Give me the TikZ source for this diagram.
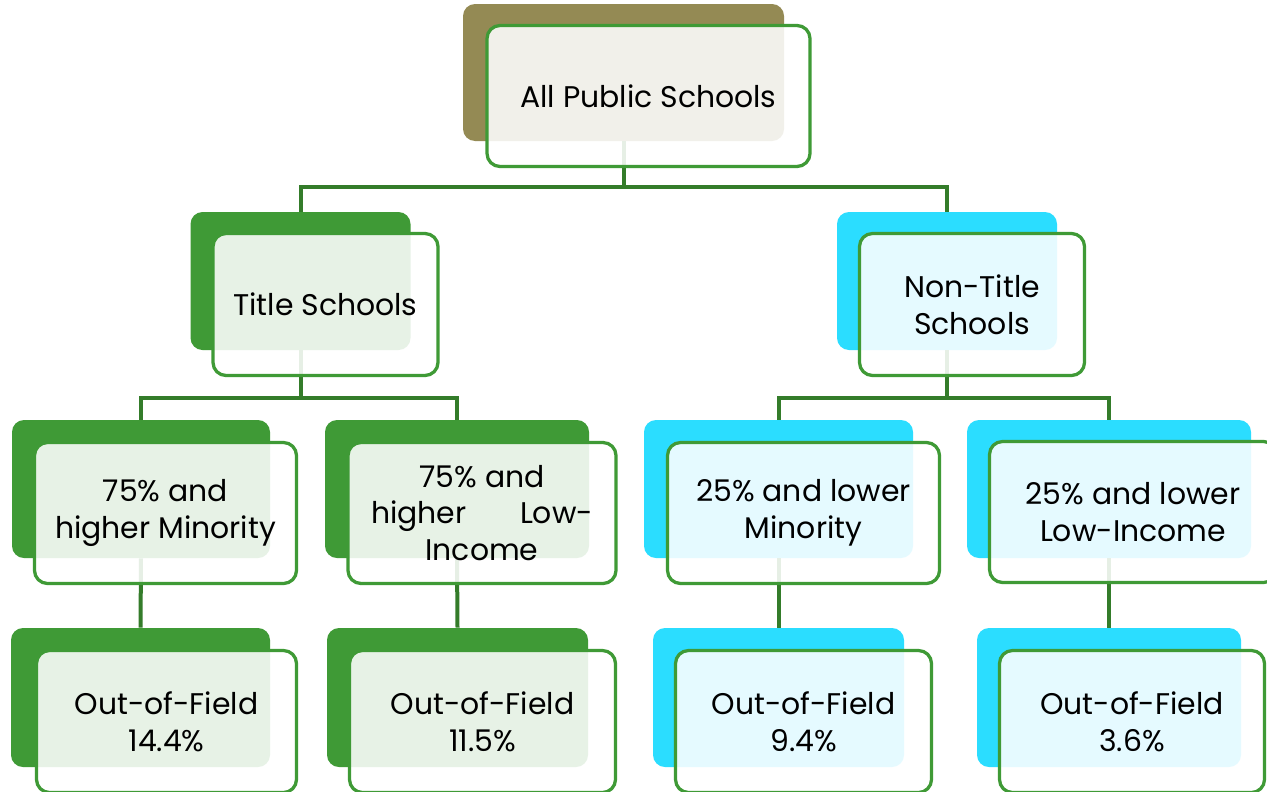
\documentclass[tikz,border=0pt]{standalone}
\usepackage{fontspec}
\setmainfont{Poppins}
\usetikzlibrary{positioning}

\definecolor{boxgreen}{RGB}{63,154,54}
\definecolor{linegreen}{RGB}{52,124,42}
\definecolor{oliveback}{RGB}{148,138,84}
\definecolor{cyanback}{RGB}{43,221,255}

\tikzset{
	backbox/.style={fill=#1, draw=none, rounded corners=0.24cm, inner sep=0pt},
	frontbox/.style={draw=boxgreen, line width=0.065cm, fill=white, fill opacity=0.88, text opacity=1,
		rounded corners=0.26cm, inner sep=0pt, align=center, font=\fontsize{17}{21}\selectfont},
	conn/.style={draw=linegreen, line width=0.08cm},
}

\begin{document}
\begin{tikzpicture}[x=0.02cm, y=-0.02cm]
		%%%%% START %%%%%
		
		\fill[white] (0, 0) rectangle (1267, 791);
		\clip (0, 0) rectangle (1267, 791);
		\useasboundingbox (0, 0) rectangle (1267, 791);
		
		% back boxes
		\node[backbox=oliveback, minimum width=321*0.02cm, minimum height=137*0.02cm] (all) at (623.5, 72.5) {};
		
		\node[backbox=boxgreen, minimum width=220*0.02cm, minimum height=138*0.02cm] (title) at (300.5, 281) {};
		\node[backbox=cyanback, minimum width=220*0.02cm, minimum height=138*0.02cm] (nontitle) at (947, 281) {};
		
		\node[backbox=boxgreen, minimum width=258*0.02cm, minimum height=138*0.02cm] (tminor) at (141, 489) {};
		\node[backbox=boxgreen, minimum width=264*0.02cm, minimum height=138*0.02cm] (tincome) at (457, 489) {};
		\node[backbox=cyanback, minimum width=269*0.02cm, minimum height=138*0.02cm] (nminor) at (778.5, 489) {};
		\node[backbox=cyanback, minimum width=284*0.02cm, minimum height=138*0.02cm] (nincome) at (1109, 489) {};
		
		\node[backbox=boxgreen, minimum width=259*0.02cm, minimum height=139*0.02cm] (tminorof) at (140.5, 697.5) {};
		\node[backbox=boxgreen, minimum width=261*0.02cm, minimum height=139*0.02cm] (tincomeof) at (457.5, 697.5) {};
		\node[backbox=cyanback, minimum width=251*0.02cm, minimum height=139*0.02cm] (nminorof) at (778.5, 697.5) {};
		\node[backbox=cyanback, minimum width=264*0.02cm, minimum height=139*0.02cm] (nincomeof) at (1109, 697.5) {};
		
		% connectors
		\draw[conn] (all.south) -- ++(0, 46) -| (title.north);
		\draw[conn] (all.south) -- ++(0, 46) -| (nontitle.north);
		
		\draw[conn] (title.south) -- ++(0, 48) -| (tminor.north);
		\draw[conn] (title.south) -- ++(0, 48) -| (tincome.north);
		\draw[conn] (nontitle.south) -- ++(0, 48) -| (nminor.north);
		\draw[conn] (nontitle.south) -- ++(0, 48) -| (nincome.north);
		
		\draw[conn] (tminor.south) -- (tminorof.north);
		\draw[conn] (tincome.south) -- (tincomeof.north);
		\draw[conn] (nminor.south) -- (nminorof.north);
		\draw[conn] (nincome.south) -- (nincomeof.north);
		
		% front boxes
		\node[frontbox, minimum width=323*0.02cm, minimum height=141*0.02cm] (allf) at ([shift={(25, 23.5)}]all.center) {All Public Schools};
		
		\node[frontbox, minimum width=225*0.02cm, minimum height=142*0.02cm] (titlef) at ([shift={(25, 23.5)}]title.center) {Title Schools};
		\node[frontbox, minimum width=225*0.02cm, minimum height=142*0.02cm] (nontitlef) at ([shift={(25, 23.5)}]nontitle.center) {Non-Title\\Schools};
		
		\node[frontbox, minimum width=262*0.02cm, minimum height=141*0.02cm] (tminorf) at ([shift={(24.5, 24)}]tminor.center) {75\% and\\higher Minority};
		\node[frontbox, minimum width=268*0.02cm, minimum height=141*0.02cm] (tincomef) at ([shift={(25, 24)}]tincome.center) {75\% and\\\makebox[4.44cm]{higher\hfill Low-}\\Income};
		\node[frontbox, minimum width=272*0.02cm, minimum height=141*0.02cm] (nminorf) at ([shift={(25, 24)}]nminor.center) {25\% and lower\\Minority};
		\node[frontbox, minimum width=287*0.02cm, minimum height=141*0.02cm] (nincomef) at ([shift={(24, 23)}]nincome.center) {25\% and lower\\Low-Income};
		
		\node[frontbox, minimum width=260*0.02cm, minimum height=142*0.02cm] (tminoroff) at ([shift={(26, 24)}]tminorof.center) {Out-of-Field\\14.4\%};
		\node[frontbox, minimum width=266*0.02cm, minimum height=142*0.02cm] (tincomeoff) at ([shift={(25, 24)}]tincomeof.center) {Out-of-Field\\11.5\%};
		\node[frontbox, minimum width=256*0.02cm, minimum height=142*0.02cm] (nminoroff) at ([shift={(25, 24)}]nminorof.center) {Out-of-Field\\9.4\%};
		\node[frontbox, minimum width=265*0.02cm, minimum height=142*0.02cm] (nincomeoff) at ([shift={(23, 24)}]nincomeof.center) {Out-of-Field\\3.6\%};
		
		%%%%% END %%%%%
\end{tikzpicture}
\end{document}
